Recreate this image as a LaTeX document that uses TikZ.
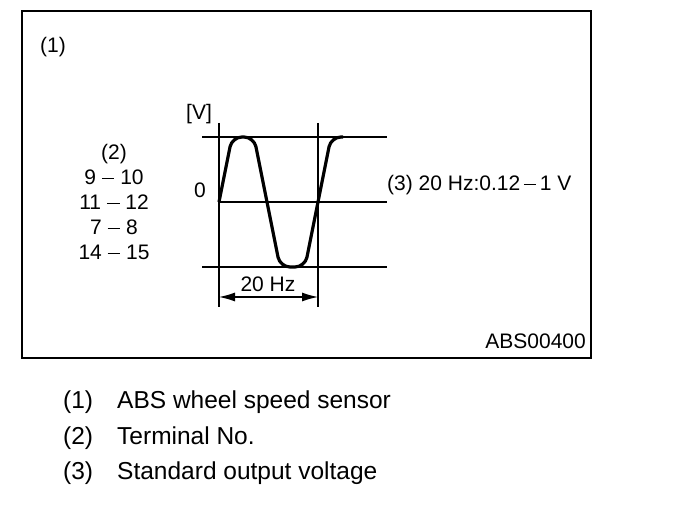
\documentclass[tikz,border=0pt]{standalone}
\usepackage{fontspec}
\setmainfont{Liberation Sans}
\usetikzlibrary{arrows.meta,positioning}
\tikzset{
  txt/.style  ={inner sep=0pt,font=\fontsize{21}{25}\selectfont},
  leg/.style  ={inner sep=0pt,anchor=base west,font=\fontsize{24.5}{28}\selectfont},
  grid/.style ={line width=1.3pt},
  wave/.style ={line width=3.2pt,rounded corners=10pt,line join=round},
  dim/.style  ={line width=1.2pt,{Latex[length=16pt,width=9pt]}-{Latex[length=16pt,width=9pt]}},
}
\newcommand{\minbar}{\raisebox{0.25em}{\rule{0.6em}{1.2pt}}}
\newcommand{\dsh}{\ \minbar\ }
\begin{document}
\begin{tikzpicture}[x=1pt,y=-1pt]
  \useasboundingbox (0,0) rectangle (688,518);
  % frame
  \draw[line width=1.3pt] (22,11) rectangle (591,358);
  \node[txt,anchor=west] (fig) at (40,47) {(1)};
  % terminal numbers
  \node[txt,align=center] (term) at (114,202)
       {(2)\\9\dsh10\\11\dsh12\\7\dsh8\\14\dsh15};
  % grid
  \coordinate (lt) at (219,123);
  \coordinate (lb) at (219,307);
  \coordinate (rt) at (318,123);
  \coordinate (rb) at (318,307);
  \coordinate (hi0) at (202,137);  \coordinate (hi1) at (387,137);
  \coordinate (md0) at (219,202);  \coordinate (md1) at (387,202);
  \coordinate (lo0) at (202,267);  \coordinate (lo1) at (387,267);
  \draw[grid] (lt) -- (lb);
  \draw[grid] (rt) -- (rb);
  \draw[grid] (hi0) -- (hi1);
  \draw[grid] (md0) -- (md1);
  \draw[grid] (lo0) -- (lo1);
  \node[txt] (unit) at (199,114) {[V]};
  \node[txt] (zero) at (200,190) {0};
  % signal
  \draw[wave] (md0) -- (232,137) -- (254,137) -- (280,267) -- (305,267)
              -- (331,137) -- (343,137);
  % period
  \coordinate (pl) at (219,297);
  \coordinate (pr) at (318,297);
  \draw[dim] (pl) -- (pr);
  \node[txt] (per) at (268,284) {20 Hz};
  \node[txt,anchor=west] (std) at (387,185) {(3) 20 Hz:0.12\,\minbar\,1 V};
  \node[txt,anchor=east] (code) at (586,341) {ABS00400};
  % legend
  \foreach \i/\t [count=\k] in {1/ABS wheel speed sensor,2/Terminal No.,3/Standard output voltage}{
    \node[leg] (num\k) at (63,{374+35*\k}) {(\i)};
    \node[leg] (key\k) at (117,{374+35*\k}) {\t};
  }
\end{tikzpicture}
\end{document}
